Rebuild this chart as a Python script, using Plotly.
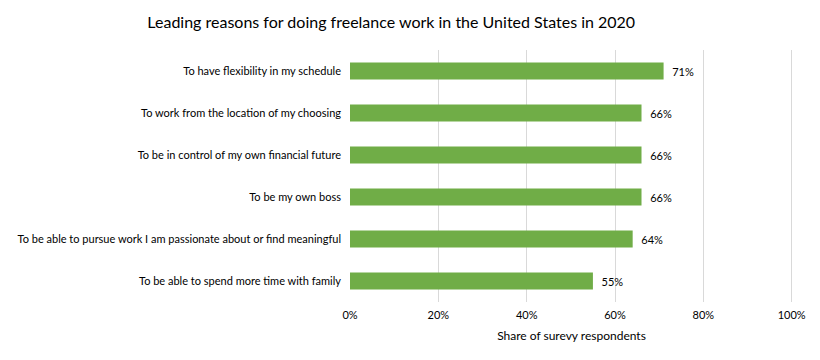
import plotly.graph_objects as go

categories = [
    "To have flexibility in my schedule",
    "To work from the location of my choosing",
    "To be in control of my own financial future",
    "To be my own boss",
    "To be able to pursue work I am passionate about or find meaningful",
    "To be able to spend more time with family",
]
values = [71, 66, 66, 66, 64, 55]
x_ticks = [0, 20, 40, 60, 80, 100]
x_tick_labels = ["0%", "20%", "40%", "60%", "80%", "100%"]

FONT = "Lato, Calibri, Carlito, Arial, sans-serif"

fig = go.Figure(
    go.Bar(
        x=values,
        y=categories,
        orientation="h",
        marker=dict(color="#70AD47", line=dict(width=0)),
        text=[f"  {v}%" for v in values],
        textposition="outside",
        textfont=dict(family=FONT, size=11, color="#000000"),
        cliponaxis=False,
        hoverinfo="skip",
    )
)

fig.update_layout(
    width=812,
    height=352,
    paper_bgcolor="white",
    plot_bgcolor="white",
    margin=dict(l=342, r=27, t=42, b=58, autoexpand=False),
    bargap=0.6,
    showlegend=False,
    font=dict(family=FONT, size=11, color="#000000"),
    title=dict(
        text="Leading reasons for doing freelance work in the United States in 2020",
        x=0.472,
        xanchor="center",
        y=0.96,
        yanchor="middle",
        font=dict(family=FONT, size=16, color="#000000"),
        automargin=False,
    ),
    xaxis=dict(
        range=[0, 100.3],
        tickvals=x_ticks,
        ticktext=x_tick_labels,
        showgrid=True,
        gridcolor="#D9D9D9",
        gridwidth=1,
        zeroline=False,
        showline=False,
        ticks="",
        automargin=False,
        ticklabelstandoff=5,
        tickfont=dict(family=FONT, size=11, color="#000000"),
        title=dict(
            text="Share of surevy respondents",
            font=dict(family=FONT, size=12, color="#000000"),
            standoff=11,
        ),
    ),
    yaxis=dict(
        categoryorder="array",
        categoryarray=list(reversed(categories)),
        showgrid=False,
        zeroline=False,
        showline=False,
        ticks="",
        automargin=False,
        ticklabelstandoff=8,
        tickfont=dict(family=FONT, size=11, color="#000000"),
    ),
)

fig.write_html("out.html")
